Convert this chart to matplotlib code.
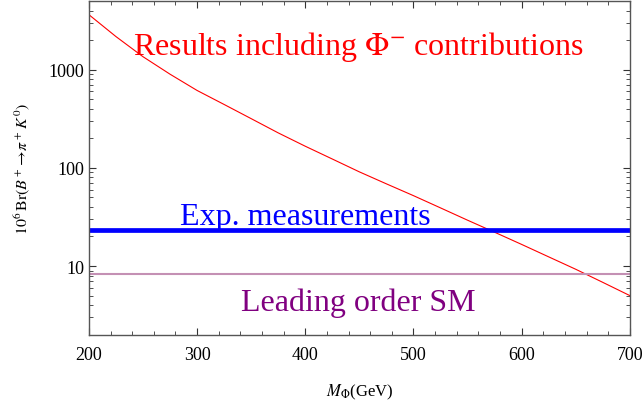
import numpy as np
import matplotlib
matplotlib.use("Agg")
import matplotlib.pyplot as plt
from matplotlib.ticker import MultipleLocator, LogLocator, NullFormatter, FixedLocator

plt.rcParams['font.family'] = ['Liberation Serif', 'DejaVu Serif']
plt.rcParams['mathtext.fontset'] = 'stix'

# datos
masa = [200, 225, 250, 275, 300, 325, 350, 375, 400, 425, 450, 475,
        500, 525, 550, 575, 600, 625, 650, 675, 700]
br_phi = [3631, 2173, 1355, 899, 614, 442, 317, 227, 166, 123, 91, 68.7,
          52.1, 39.1, 29.3, 22.1, 16.6, 12.4, 9.27, 6.82, 5.0]
br_exp = 23.4
br_sm = 8.3

fig = plt.figure(figsize=(6.44, 4.02), dpi=100)
ax = fig.add_axes([0.138, 0.165, 0.840, 0.830])

ax.plot(masa, br_phi, color='red', lw=0.8)
ax.axhline(br_exp, color='blue', lw=3.4)
ax.axhline(br_sm, color='#c490b4', lw=1.5)

ax.set_yscale('log')
ax.set_xlim(200, 700)
ax.set_ylim(2, 5000)

# texto
ax.text(449, 1445, r'Results including $\Phi^{-}$ contributions', color='red',
        fontsize=23, ha='center', va='baseline')
ax.text(400, 26.9, 'Exp. measurements', color='blue', fontsize=23,
        ha='center', va='baseline')
ax.text(449, 3.53, 'Leading order SM', color='#800080', fontsize=23,
        ha='center', va='baseline')

# ejes estilo Mathematica
ax.xaxis.set_major_locator(MultipleLocator(100))
ax.xaxis.set_minor_locator(MultipleLocator(20))
ax.yaxis.set_major_locator(FixedLocator([10, 100, 1000]))
ax.yaxis.set_minor_locator(LogLocator(base=10, subs=np.arange(2, 10)))
ax.yaxis.set_minor_formatter(NullFormatter())
ax.set_yticklabels(['10', '100', '1000'])
ax.tick_params(which='both', direction='in', top=True, right=True,
               labelsize=13, color='#333333')
ax.tick_params(which='major', length=5, width=0.8)
ax.tick_params(which='minor', length=3, width=0.6)
ax.tick_params(axis='x', pad=8)
for s in ax.spines.values():
    s.set_color('#555555')
    s.set_linewidth(1.0)

ax.set_xlabel(r'$M_\Phi$(GeV)', fontsize=12, labelpad=14)
ax.set_ylabel(r'$10^6\,\mathrm{Br}(B^+\!\to\!\pi^+\,K^0)$', fontsize=11.5, labelpad=12)

plt.savefig('out.png', dpi=100)
